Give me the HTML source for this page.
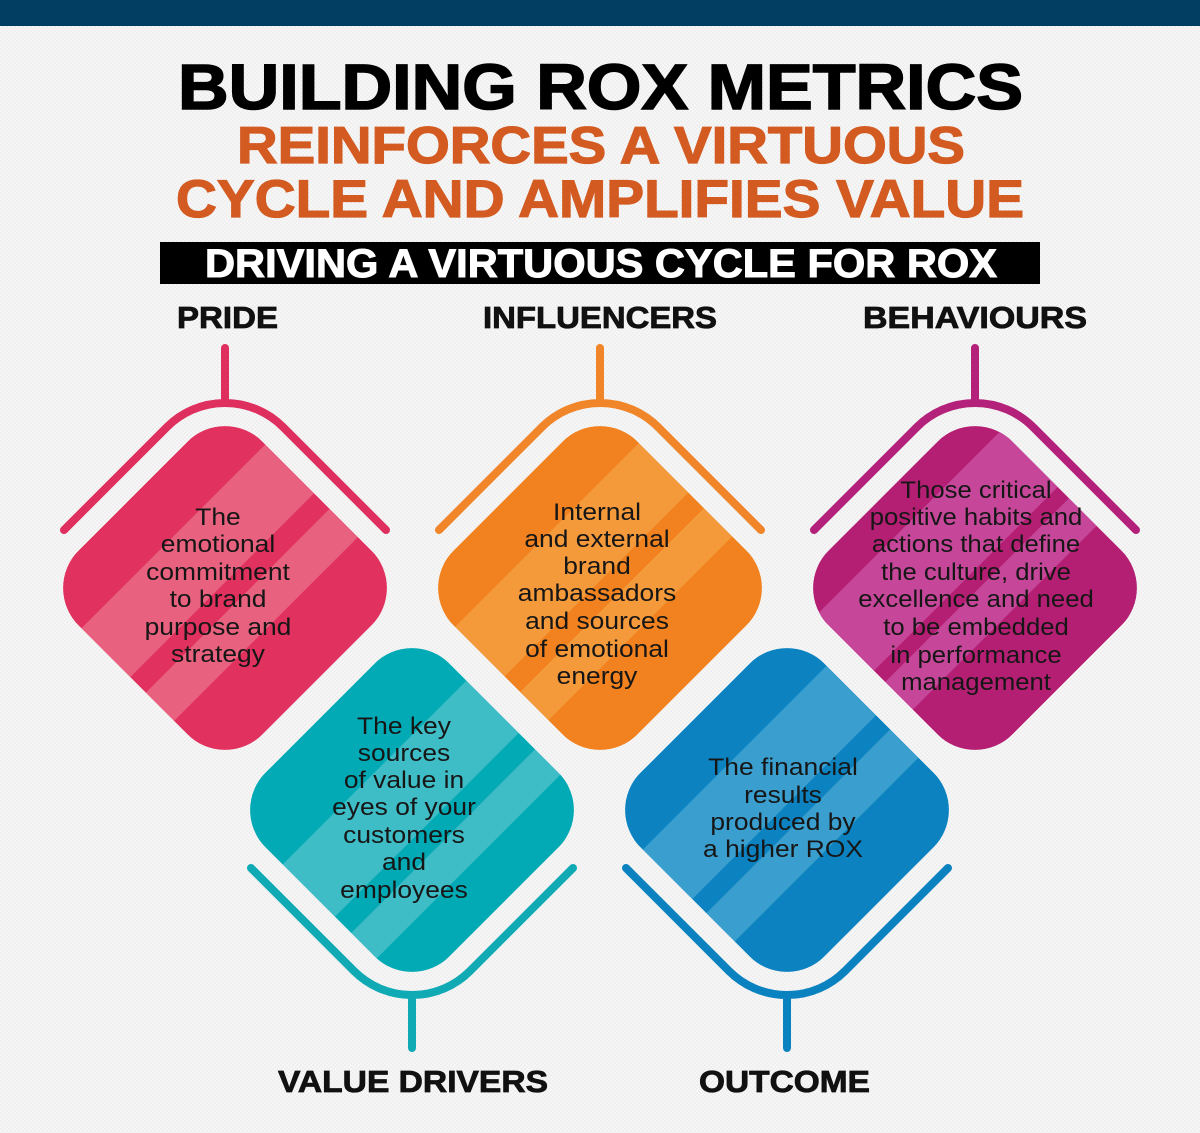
<!DOCTYPE html>
<html>
<head>
<meta charset="utf-8">
<style>
  html,body{margin:0;padding:0;background:#f4f4f4;}
  svg{display:block;}
  .h{font-family:"Liberation Sans",Arial,sans-serif;font-weight:bold;}
  .t{font-family:"Liberation Sans",Arial,sans-serif;font-size:24px;fill:#161616;text-anchor:middle;}
</style>
</head>
<body>
<svg width="1200" height="1133" viewBox="0 0 1200 1133" xmlns="http://www.w3.org/2000/svg">
  <defs>
    <pattern id="dots" x="0" y="0" width="4" height="4" patternUnits="userSpaceOnUse">
      <rect width="4" height="4" fill="#f6f6f6"/>
      <circle cx="1" cy="1" r="0.8" fill="#e8e8e8"/>
      <circle cx="3" cy="3" r="0.8" fill="#e8e8e8"/>
    </pattern>
    <clipPath id="dc" clipPathUnits="userSpaceOnUse">
      <rect x="-130" y="-130" width="260" height="260" rx="53" ry="53"/>
    </clipPath>
  </defs>

  <!-- background -->
  <rect x="0" y="0" width="1200" height="1133" fill="url(#dots)"/>
  <rect x="0" y="0" width="1200" height="26" fill="#023d62"/>

  <!-- titles -->
  <text class="h" x="178" y="109" font-size="64" fill="#000" stroke="#000" stroke-width="1.6" textLength="845" lengthAdjust="spacingAndGlyphs">BUILDING ROX METRICS</text>
  <text class="h" x="237" y="163" font-size="52" fill="#d35a20" stroke="#d35a20" stroke-width="1.2" textLength="728" lengthAdjust="spacingAndGlyphs">REINFORCES A VIRTUOUS</text>
  <text class="h" x="176" y="217" font-size="53" fill="#d35a20" stroke="#d35a20" stroke-width="1.2" textLength="848" lengthAdjust="spacingAndGlyphs">CYCLE AND AMPLIFIES VALUE</text>

  <rect x="160" y="242" width="880" height="42" fill="#000"/>
  <text class="h" x="205" y="277" font-size="40" fill="#fff" stroke="#fff" stroke-width="1" textLength="792" lengthAdjust="spacingAndGlyphs">DRIVING A VIRTUOUS CYCLE FOR ROX</text>

  <!-- top labels -->
  <text class="h" x="177" y="328" font-size="31" fill="#111" stroke="#111" stroke-width="0.8" textLength="101" lengthAdjust="spacingAndGlyphs">PRIDE</text>
  <text class="h" x="483" y="328" font-size="31" fill="#111" stroke="#111" stroke-width="0.8" textLength="234" lengthAdjust="spacingAndGlyphs">INFLUENCERS</text>
  <text class="h" x="863" y="328" font-size="31" fill="#111" stroke="#111" stroke-width="0.8" textLength="224" lengthAdjust="spacingAndGlyphs">BEHAVIOURS</text>

  <!-- bottom labels -->
  <text class="h" x="278" y="1092" font-size="31" fill="#111" stroke="#111" stroke-width="0.8" textLength="270" lengthAdjust="spacingAndGlyphs">VALUE DRIVERS</text>
  <text class="h" x="699" y="1092" font-size="31" fill="#111" stroke="#111" stroke-width="0.8" textLength="171" lengthAdjust="spacingAndGlyphs">OUTCOME</text>

  <!-- brackets -->
  <g fill="none" stroke-width="8" stroke-linecap="round" stroke-linejoin="round">
    <path d="M64 530 L167 427 A82 82 0 0 1 283 427 L386 530 M225 403 L225 348" stroke="#df2f5e"/>
    <path d="M439 530 L542 427 A82 82 0 0 1 658 427 L761 530 M600 403 L600 348" stroke="#f0852a"/>
    <path d="M814 530 L917 427 A82 82 0 0 1 1033 427 L1136 530 M975 403 L975 348" stroke="#b3217a"/>
    <path d="M251 868 L354 971 A82 82 0 0 0 470 971 L573 868 M412 995 L412 1048" stroke="#10aab5"/>
    <path d="M626 868 L729 971 A82 82 0 0 0 845 971 L948 868 M787 995 L787 1048" stroke="#0b82c0"/>
  </g>

  <!-- diamonds -->
  <g transform="translate(225,588) rotate(45)">
    <g clip-path="url(#dc)">
      <rect x="-130" y="-130" width="260" height="260" fill="#e1315f"/>
      <rect x="-73" y="-130" width="69" height="260" fill="#e8617f"/>
      <rect x="18" y="-130" width="40" height="260" fill="#e8617f"/>
    </g>
  </g>
  <g transform="translate(600,588) rotate(45)">
    <g clip-path="url(#dc)">
      <rect x="-130" y="-130" width="260" height="260" fill="#f1821f"/>
      <rect x="-75" y="-130" width="70" height="260" fill="#f59a3b"/>
      <rect x="17" y="-130" width="40" height="260" fill="#f59a3b"/>
    </g>
  </g>
  <g transform="translate(975,588) rotate(45)">
    <g clip-path="url(#dc)">
      <rect x="-130" y="-130" width="260" height="260" fill="#b41f74"/>
      <rect x="-93" y="-130" width="80" height="260" fill="#c6479a"/>
      <rect x="3" y="-130" width="39" height="260" fill="#c6479a"/>
    </g>
  </g>
  <g transform="translate(412,810) rotate(45)">
    <g clip-path="url(#dc)">
      <rect x="-130" y="-130" width="260" height="260" fill="#01aab5"/>
      <rect x="-53" y="-130" width="74" height="260" fill="#3fbdc6"/>
      <rect x="44" y="-130" width="36" height="260" fill="#3fbdc6"/>
    </g>
  </g>
  <g transform="translate(787,810) rotate(45)">
    <g clip-path="url(#dc)">
      <rect x="-130" y="-130" width="260" height="260" fill="#0c83c0"/>
      <rect x="-74" y="-130" width="70" height="260" fill="#3a9fcf"/>
      <rect x="16" y="-130" width="40" height="260" fill="#3a9fcf"/>
    </g>
  </g>

  <!-- diamond texts -->
  <g transform="translate(218,0) scale(1.1,1)">
    <text class="t" x="0" y="525">The</text>
    <text class="t" x="0" y="552">emotional</text>
    <text class="t" x="0" y="580">commitment</text>
    <text class="t" x="0" y="607">to brand</text>
    <text class="t" x="0" y="635">purpose and</text>
    <text class="t" x="0" y="662">strategy</text>
  </g>
  <g transform="translate(597,0) scale(1.1,1)">
    <text class="t" x="0" y="520">Internal</text>
    <text class="t" x="0" y="547">and external</text>
    <text class="t" x="0" y="574">brand</text>
    <text class="t" x="0" y="601">ambassadors</text>
    <text class="t" x="0" y="629">and sources</text>
    <text class="t" x="0" y="657">of emotional</text>
    <text class="t" x="0" y="684">energy</text>
  </g>
  <g transform="translate(976,0) scale(1.07,1)">
    <text class="t" x="0" y="498">Those critical</text>
    <text class="t" x="0" y="525">positive habits and</text>
    <text class="t" x="0" y="552">actions that define</text>
    <text class="t" x="0" y="580">the culture, drive</text>
    <text class="t" x="0" y="607">excellence and need</text>
    <text class="t" x="0" y="635">to be embedded</text>
    <text class="t" x="0" y="663">in performance</text>
    <text class="t" x="0" y="690">management</text>
  </g>
  <g transform="translate(404,0) scale(1.1,1)">
    <text class="t" x="0" y="734">The key</text>
    <text class="t" x="0" y="761">sources</text>
    <text class="t" x="0" y="788">of value in</text>
    <text class="t" x="0" y="815">eyes of your</text>
    <text class="t" x="0" y="843">customers</text>
    <text class="t" x="0" y="870">and</text>
    <text class="t" x="0" y="898">employees</text>
  </g>
  <g transform="translate(783,0) scale(1.1,1)">
    <text class="t" x="0" y="775">The financial</text>
    <text class="t" x="0" y="803">results</text>
    <text class="t" x="0" y="830">produced by</text>
    <text class="t" x="0" y="857">a higher ROX</text>
  </g>
</svg>
</body>
</html>
